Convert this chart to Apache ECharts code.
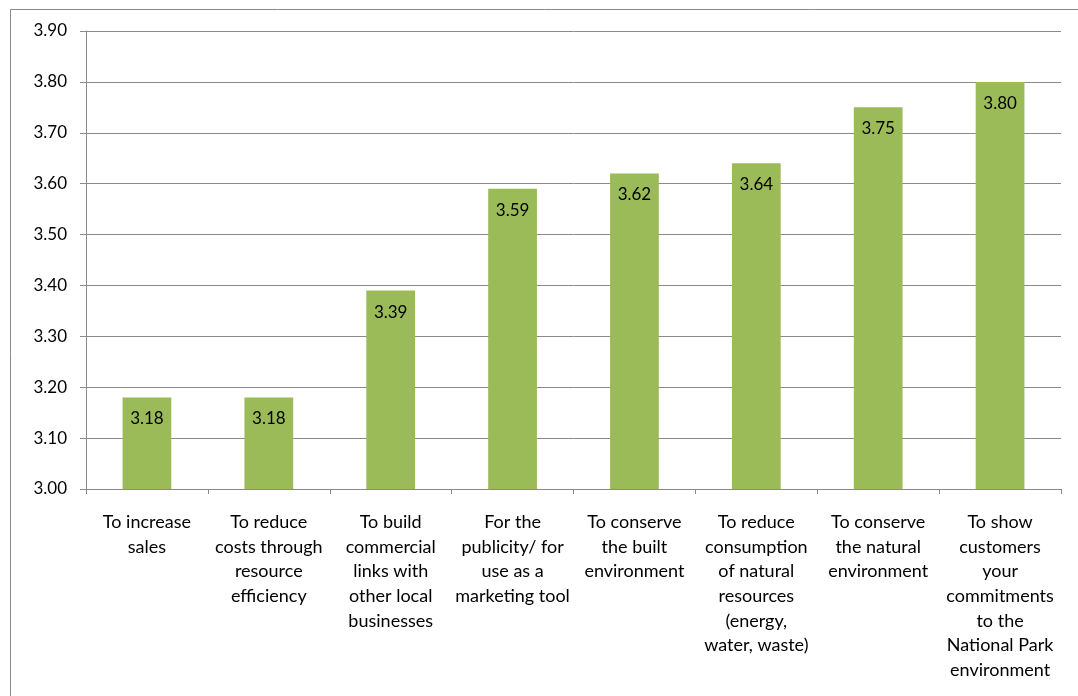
<!DOCTYPE html>
<html>
<head>
<meta charset="utf-8">
<script src="https://cdn.jsdelivr.net/npm/echarts@6/dist/echarts.min.js"></script>
<style>
  html, body { margin: 0; padding: 0; background: #fff; }
  #chart { width: 1078px; height: 696px; }
</style>
</head>
<body>
<div id="chart"></div>
<script>
// Reasons for taking part, mean agreement score per reason
const categories = [
  'To increase\nsales',
  'To reduce\ncosts through\nresource\nefficiency',
  'To build\ncommercial\nlinks with\nother local\nbusinesses',
  'For the\npublicity/ for\nuse as a\nmarketing tool',
  'To conserve\nthe built\nenvironment',
  'To reduce\nconsumption\nof natural\nresources\n(energy,\nwater, waste)',
  'To conserve\nthe natural\nenvironment',
  'To show\ncustomers\nyour\ncommitments\nto the\nNational Park\nenvironment'
];
const values = [3.18, 3.18, 3.39, 3.59, 3.62, 3.64, 3.75, 3.80];

const axisMin = 3.0;
const axisMax = 3.9;
const axisStep = 0.1;

const FONT = 'Lato, "Open Sans", sans-serif';
const GRID_GREY = '#8a8a8a';

const chart = echarts.init(document.getElementById('chart'), null, { renderer: 'canvas' });

chart.setOption({
  backgroundColor: '#ffffff',
  animation: false,
  graphic: [{
    type: 'rect',
    silent: true,
    shape: { x: 10.5, y: 9.5, width: 1200, height: 1000 },
    style: { fill: 'none', stroke: GRID_GREY, lineWidth: 1 }
  }],
  grid: { left: 86, top: 31, right: 17, bottom: 207, containLabel: false },
  xAxis: {
    type: 'category',
    data: categories,
    boundaryGap: true,
    axisLine: { show: true, lineStyle: { color: GRID_GREY, width: 1 } },
    axisTick: { show: true, alignWithLabel: false, length: 5, lineStyle: { color: GRID_GREY } },
    axisLabel: {
      interval: 0,
      margin: 21,
      color: '#000',
      fontFamily: FONT,
      fontSize: 18,
      lineHeight: 24.6,
      align: 'center'
    },
    splitLine: { show: false }
  },
  yAxis: {
    type: 'value',
    min: axisMin,
    max: axisMax,
    interval: axisStep,
    axisLine: { show: true, lineStyle: { color: GRID_GREY, width: 1 } },
    axisTick: { show: true, inside: false, length: 6, lineStyle: { color: GRID_GREY } },
    axisLabel: {
      margin: 19,
      color: '#000',
      fontFamily: FONT,
      fontSize: 17,
      formatter: v => v.toFixed(2)
    },
    splitLine: { show: true, lineStyle: { color: GRID_GREY, width: 1 } }
  },
  series: [{
    type: 'bar',
    data: values,
    barWidth: '40%',
    itemStyle: { color: '#9BBB59' },
    label: {
      show: true,
      position: 'insideTop',
      distance: 13,
      color: '#000',
      fontFamily: FONT,
      fontSize: 17,
      formatter: p => p.value.toFixed(2)
    }
  }]
});
</script>
</body>
</html>
